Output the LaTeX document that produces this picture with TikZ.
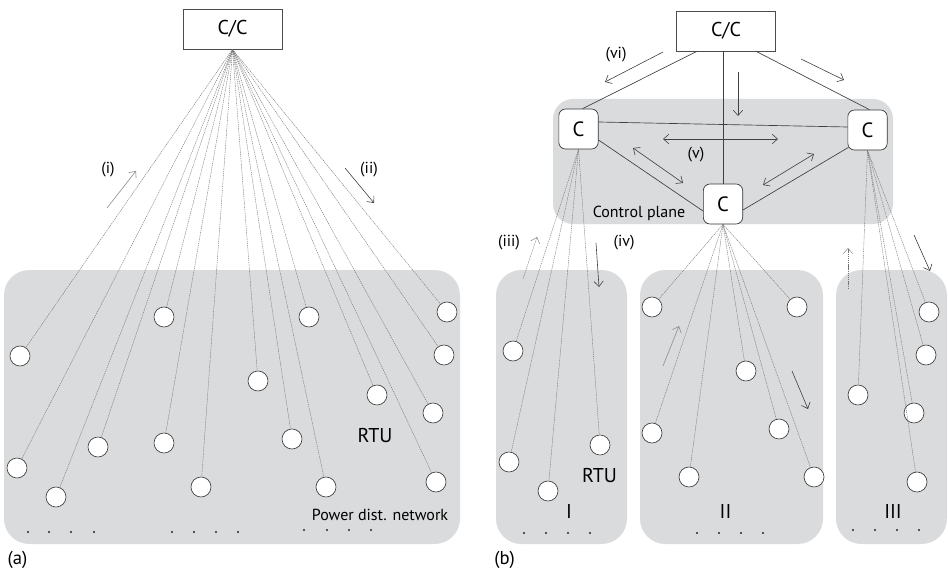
\documentclass[tikz,border=0pt]{standalone}
\usepackage{fontspec}
\setmainfont{PT Sans}
\usetikzlibrary{arrows.meta,calc}
\definecolor{panel}{RGB}{218,219,221}
\begin{document}
\begin{tikzpicture}[x=0.75pt,y=-0.75pt,
  ccbox/.style={draw=black!70, line width=0.5pt, fill=white, minimum width=74.25pt, minimum height=30pt, inner sep=0pt, font=\fontsize{15}{18}\selectfont},
  cnode/.style={draw=black!80, line width=0.5pt, fill=white, rounded corners=5pt, minimum width=29.5pt, minimum height=30pt, inner sep=0pt, font=\fontsize{15.5}{18}\selectfont},
  rtu/.style={circle, draw=black!75, line width=0.5pt, fill=white, minimum size=15pt, inner sep=0pt},
  fan/.style={draw=black!55, line width=0.3pt, dash pattern=on 1pt off 0.6pt},
  ctl/.style={draw=black!75, line width=0.5pt},
  arr/.style={-{Straight Barb[length=4pt,width=7pt]}, line width=0.45pt},
  darr/.style={{Straight Barb[length=4pt,width=7pt]}-{Straight Barb[length=4pt,width=7pt]}, line width=0.45pt, draw=black!75},
  lbl/.style={font=\fontsize{12}{14}\selectfont, anchor=base, inner sep=0pt},
  big/.style={font=\fontsize{15}{18}\selectfont, anchor=base, inner sep=0pt},
  mid/.style={font=\fontsize{12}{14}\selectfont, anchor=base, inner sep=0pt},
  captxt/.style={font=\fontsize{14}{16}\selectfont, anchor=base, inner sep=0pt}
]
\useasboundingbox (0,0) rectangle (948,570);

% ---------------- panel (a) ----------------
\fill[panel, rounded corners=19pt] (4,270) rectangle (460,544);
\node[ccbox] (cca) at (232.5,29) {C/C};
\foreach \n/\x/\y in {1/164/317, 2/309/317, 3/447/312, 4/20/356, 5/444/355, 6/258/381,
  7/377/395, 8/433/413, 9/98/447, 10/164/443, 11/292/439, 12/17/468, 13/56/497,
  14/201/487, 15/326/487, 16/436/482}
  \node[rtu] (a\n) at (\x,\y) {};
\foreach \n in {1,...,16}
  \draw[fan] (cca.south) -- (a\n);
\node[big] (rtua) at (375,442) {RTU};
\node[mid] (pdn) at (380,520.5) {Power dist. network};
\foreach \x in {28,49,71,94,172,194,216,238}
  \fill[black!85] (\x,532) circle[radius=0.8pt];
\foreach \x in {304,327,349,371}
  \fill[black!85] (\x,530) circle[radius=0.8pt];
\node[captxt] (capa) at (17.5,564) {(a)};
\draw[arr, black!45] (107,208) -- (136,171);
\node[lbl] (li) at (108,174) {(i)};
\draw[arr, black!75] (345,168) -- (374,203);
\node[lbl] (lii) at (369,174) {(ii)};

% ---------------- panel (b) ----------------
\fill[panel, rounded corners=15pt] (553,99) rectangle (893,224);
\fill[panel, rounded corners=19pt] (496,270) rectangle (627,544);
\fill[panel, rounded corners=19pt] (640,270) rectangle (823,544);
\fill[panel, rounded corners=19pt] (836,270) rectangle (947,544);

\node[ccbox] (ccb) at (726,31) {C/C};
\node[cnode] (cl) at (578.5,129) {C};
\node[cnode] (cr) at (867.5,130) {C};
\node[cnode] (cb) at (723,204) {C};

\draw[ctl] ($(ccb.south)+(-29,0)$) -- ($(cl.north)+(4,0)$);
\draw[ctl] (ccb.south -| cb.north) -- (cb.north);
\draw[ctl] ($(ccb.south)+(30,0)$) -- ($(cr.north)+(2,0)$);
\draw[ctl] ($(cl.east)+(0,-7)$) -- ($(cr.west)+(0,-3)$);
\draw[ctl] ($(cl.east)+(0,11)$) -- ($(cb.west)+(0,7)$);
\draw[ctl] ($(cr.south west)+(1,-3)$) -- ($(cb.east)+(0,6)$);

\draw[arr, black!75] (663,52) -- (605,82);
\node[lbl] (lvi) at (616,59) {(vi)};
\draw[arr, black!75] (801,59) -- (844,80);
\draw[arr, black!75] (738,72) -- (738,116);
\draw[darr] (663,139) -- (778,139);
\node[lbl] (lv) at (696,159) {(v)};
\draw[darr] (633,148) -- (683,183);
\draw[darr] (814,154) -- (763,185);
\node[mid] (cpl) at (639,218) {Control plane};

% panel I
\foreach \n/\x/\y in {1/513/351, 2/509/462, 3/548/491, 4/600/445}
  \node[rtu] (b\n) at (\x,\y) {};
\foreach \n in {1,...,4}
  \draw[fan] (cl.south) -- (b\n);
% panel II
\foreach \n/\x/\y in {1/652/307, 2/797/307, 3/746/371, 4/652/433, 5/779/429, 6/689/477, 7/814/477}
  \node[rtu] (c\n) at (\x,\y) {};
\foreach \n in {1,...,7}
  \draw[fan] (cb.south) -- (c\n);
% panel III
\foreach \n/\x/\y in {1/929/312, 2/926/355, 3/858/395, 4/914/413, 5/917/482}
  \node[rtu] (d\n) at (\x,\y) {};
\foreach \n in {1,...,5}
  \draw[fan] (cr.south) -- (d\n);

\draw[arr, fan] (523,279) -- (537,237);
\node[lbl] (liii) at (509,246) {(iii)};
\draw[arr, black!75] (596,243) -- (599,287);
\node[lbl] (liv) at (624,246) {(iv)};
\draw[arr, fan] (848,289) -- (848,248);
\draw[arr, black!75] (914,235) -- (930,271);
\draw[arr, black!45] (663,366) -- (679,326);
\draw[arr, black!75] (792,371) -- (808,409);

\node[big] (rtub) at (599.5,482) {RTU};
\node[big] (lI) at (569,518) {I};
\node[big] (lII) at (725.5,518) {II};
\node[big] (lIII) at (893,518) {III};
\foreach \x in {524,546,568,590,697,719,741,763}
  \fill[black!85] (\x,533) circle[radius=0.8pt];
\foreach \x in {853,875,897,919}
  \fill[black!85] (\x,530) circle[radius=0.8pt];
\node[captxt] (capb) at (504.5,564) {(b)};
\end{tikzpicture}
\end{document}
